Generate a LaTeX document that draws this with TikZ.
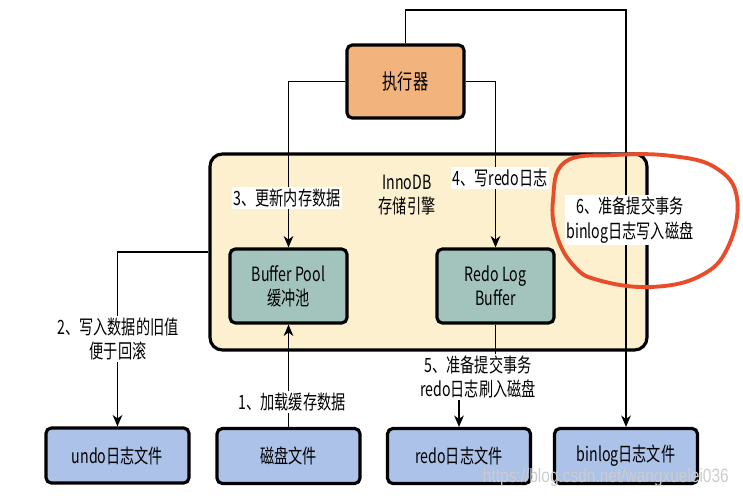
\documentclass[tikz,border=0pt]{standalone}
\usepackage{fontspec}
\setmainfont{Noto Sans CJK SC}[FakeStretch=0.72]
\newfontfamily\urlfont{Liberation Sans}[FakeStretch=0.8]
\usetikzlibrary{arrows.meta,positioning}
\definecolor{execfill}{RGB}{242,180,124}
\definecolor{enginefill}{RGB}{252,240,207}
\definecolor{buffill}{RGB}{162,196,188}
\definecolor{filefill}{RGB}{172,194,232}
\definecolor{markred}{RGB}{232,76,42}

\begin{document}
\begin{tikzpicture}[x=0.02cm,y=-0.02cm,
    >={Stealth[length=6.5pt,width=5.5pt,inset=2pt]},
    every node/.style={font=\fontsize{11.2}{13.8}\selectfont},
    box/.style={draw,line width=1.8pt,rounded corners=3pt,align=center,inner sep=0pt},
    execbox/.style={box,fill=execfill,minimum width=2.34cm,minimum height=1.46cm,font=\fontsize{12}{14}\selectfont},
    engine/.style={draw,line width=1.8pt,rounded corners=7pt,fill=enginefill,minimum width=8.74cm,minimum height=3.92cm},
    bufbox/.style={box,fill=buffill,minimum width=2.34cm,minimum height=1.48cm},
    filebox/.style={box,fill=filefill,minimum width=2.86cm,minimum height=1.1cm},
    lbl/.style={fill=white,align=center,inner sep=1pt},
    flow/.style={line width=0.6pt},
    redmark/.style={draw=markred,line width=2.2pt,line cap=round}]
    \useasboundingbox (0,0) rectangle (743,497);
    % engine container and its caption
    \node[engine] (innodb) at (428.5,252) {};
    \node[align=center] (innolbl) at (407,195) {InnoDB\\存储引擎};
    % boxes
    \node[execbox] (exec) at (405.5,81.5) {执行器};
    \node[bufbox] (bufpool) at (288.5,286) {Buffer Pool\\缓冲池};
    \node[bufbox] (redobuf) at (495.5,286) {Redo Log\\Buffer};
    \node[filebox] (undo) at (117.5,455.5) {undo日志文件};
    \node[filebox] (disk) at (288.5,456) {磁盘文件};
    \node[filebox] (redofile) at (459,456) {redo日志文件};
    \node[filebox] (binfile) at (626,456) {binlog日志文件};
    \coordinate (toprun) at (626,10);
    \coordinate (redobend) at (495.5,385);
    % connectors
    \draw[flow,->] (exec.west) -| (bufpool.north);
    \draw[flow,->] (exec.east) -| (redobuf.north);
    \draw[flow,->] (exec.north) |- (toprun) -- (binfile.north);
    \draw[flow,->] (innodb.west) -| (undo.north);
    \draw[flow,->] (disk.north) -- (bufpool.south);
    \draw[flow,->] (redobuf.south) -- (redobend) -| (redofile.north);
    % step labels
    \node[lbl] (step1) at (292,402) {1、加载缓存数据};
    \node[lbl] (step2) at (118,339) {2、写入数据的旧值\\便于回滚};
    \node[lbl] (step3) at (287,198) {3、更新内存数据};
    \node[lbl] (step4) at (500,178) {4、写redo日志};
    \node[lbl] (step5) at (478,377) {5、准备提交事务\\redo日志刷入磁盘};
    \node[lbl] (step6) at (630,220) {6、准备提交事务\\binlog日志写入磁盘};
    % hand drawn mark
    \draw[redmark] plot[smooth cycle,tension=0.7] coordinates
      {(565,162) (615,155) (672,156) (716,168) (737,198) (728,247)
       (700,276) (650,287) (598,280) (574,266) (557,236) (553,200)};
    \node[font=\urlfont\fontsize{11}{13}\selectfont,text=gray!40,anchor=east] (wmark) at (735,477)
      {https://blog.csdn.net/wangxuelei036};
\end{tikzpicture}
\end{document}
